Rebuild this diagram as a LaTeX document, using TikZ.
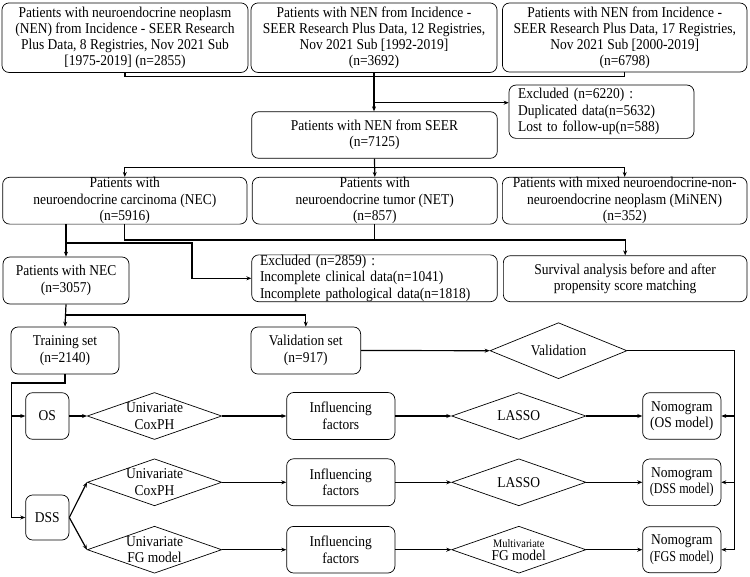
\documentclass[tikz,border=0pt]{standalone}
\usepackage{fontspec}
\setmainfont{Liberation Serif}[FakeStretch=0.9]
\usepackage{graphicx}
\usetikzlibrary{shapes.geometric,arrows.meta}
\begin{document}
\begin{tikzpicture}[x=1pt,y=-1pt,
  font=\fontsize{15}{16.6}\selectfont,
  box/.style={draw, rounded corners=7pt, line width=0.7pt, align=center, inner sep=0pt},
  lbox/.style={draw, rounded corners=7pt, line width=0.7pt, align=left, inner ysep=0pt},
  dia/.style={draw, diamond, inner sep=0pt, line width=0.7pt},
  conn/.style={line width=1.2pt},
  arr/.style={line width=1.2pt, -{Stealth[length=5pt,width=4pt]}},
  topfont/.style={font=\fontsize{15}{15.9}\selectfont},
]
\fill[white] (0,0) rectangle (750,576);
\useasboundingbox (0,0) rectangle (750,576);

% top row
\node[box, topfont, minimum width=246pt, minimum height=69.5pt] (t1) at (125,37.7)
  {Patients with neuroendocrine neoplasm\\(NEN) from Incidence - SEER Research\\Plus Data, 8 Registries, Nov 2021 Sub\\{[1975-2019]} (n=2855)};
\node[box, topfont, minimum width=246pt, minimum height=69.5pt] (t2) at (374,37.7)
  {Patients with NEN from Incidence -\\SEER Research Plus Data, 12 Registries,\\Nov 2021 Sub [1992-2019]\\(n=3692)};
\node[box, topfont, minimum width=244.5pt, minimum height=69pt] (t3) at (624.7,37.5)
  {Patients with NEN from Incidence -\\SEER Research Plus Data, 17 Registries,\\Nov 2021 Sub [2000-2019]\\(n=6798)};

\node[lbox, text width=167pt, inner xsep=9pt, minimum height=53.3pt] (ex1) at (601.5,111.7)
  {Excluded (n=6220) :\\Duplicated data(n=5632)\\Lost to follow-up(n=588)};

\node[box, minimum width=245.6pt, minimum height=46.6pt] (seer) at (374.5,135)
  {Patients with NEN from SEER\\(n=7125)};

% row 3
\node[box, minimum width=244.3pt, minimum height=46.7pt] (nec) at (124.8,200.7)
  {Patients with\\neuroendocrine carcinoma (NEC)\\(n=5916)};
\node[box, minimum width=245pt, minimum height=46.7pt] (net) at (374.8,200.7)
  {Patients with\\neuroendocrine tumor (NET)\\(n=857)};
\node[box, minimum width=244.7pt, minimum height=46.7pt] (minen) at (624.7,200.7)
  {Patients with mixed neuroendocrine-non-\\neuroendocrine neoplasm (MiNEN)\\(n=352)};

% row 4
\node[box, minimum width=126pt, minimum height=47pt] (pnec) at (66,280.5)
  {Patients with NEC\\(n=3057)};
\node[lbox, text width=229pt, inner xsep=8.3pt, minimum height=46.7pt] (ex2) at (374.5,278.3)
  {Excluded (n=2859) :\\Incomplete clinical data(n=1041)\\Incomplete pathological data(n=1818)};
\node[box, minimum width=243.7pt, minimum height=46pt] (surv) at (625.2,278.7)
  {Survival analysis before and after\\propensity score matching};

% row 5
\node[box, minimum width=108pt, minimum height=47pt] (train) at (65,350.5)
  {Training set\\(n=2140)};
\node[box, minimum width=109.7pt, minimum height=47pt] (vset) at (305.8,350.5)
  {Validation set\\(n=917)};
\node[dia, minimum width=137pt, minimum height=56pt, label={center:Validation}] (vdia) at (558.5,350.7) {};

% model rows
\node[box, minimum width=43.3pt, minimum height=46.6pt] (os) at (47.3,416) {OS};
\node[box, minimum width=43.3pt, minimum height=45pt] (dss) at (47.3,517.5) {DSS};

\node[dia, minimum width=134.4pt, minimum height=47pt, label={[align=center]center:Univariate\\CoxPH}] (d1) at (154.5,416) {};
\node[dia, minimum width=134.4pt, minimum height=47pt, label={[align=center]center:Univariate\\CoxPH}] (d2) at (154.5,482.3) {};
\node[dia, minimum width=134.4pt, minimum height=47pt, label={[align=center]center:Univariate\\FG model}] (d3) at (154.5,549.7) {};

\node[box, minimum width=108.3pt, minimum height=47pt] (f1) at (340.8,416) {Influencing\\factors};
\node[box, minimum width=108.3pt, minimum height=47pt] (f2) at (340.8,482.3) {Influencing\\factors};
\node[box, minimum width=108.3pt, minimum height=46.6pt] (f3) at (340.8,549.7) {Influencing\\factors};

\node[dia, minimum width=134.3pt, minimum height=47pt, label={center:LASSO}] (l1) at (518.8,416) {};
\node[dia, minimum width=134.3pt, minimum height=47pt, label={center:LASSO}] (l2) at (518.8,482.3) {};
\node[dia, minimum width=134.3pt, minimum height=47pt,
  label={[yshift=6.5pt]center:{\fontsize{11.5}{12}\selectfont Multivariate}},
  label={[yshift=-6pt]center:FG model}] (l3) at (518.8,549.7) {};

\node[box, minimum width=78.3pt, minimum height=46.6pt] (n1) at (681.8,416) {Nomogram\\(OS model)};
\node[box, minimum width=78.3pt, minimum height=46.6pt] (n2) at (681.8,482.3) {Nomogram\\\scalebox{0.9}[1]{(DSS model)}};
\node[box, minimum width=78.3pt, minimum height=46pt] (n3) at (681.8,549.7) {Nomogram\\\scalebox{0.9}[1]{(FGS model)}};

% connectors: top
\coordinate (jt) at (374,76.5);
\draw[conn] (t1.south) |- (jt);
\draw[conn] (t3.south) |- (jt);
\draw[arr] (t2.south) -- (t2.south |- seer.north);
\coordinate (je) at (374,102.7);
\draw[arr] (je) -- (ex1.west |- je);

% seer to row 3
\coordinate (js) at (374.5,167.3);
\draw[arr] (seer.south) -- (net.north);
\draw[arr] (js) -| (nec.north);
\draw[arr] (js) -| (minen.north);

% row 3 to survival
\coordinate (ja) at (124.8,240);
\draw[arr] (nec.south) -- (ja) -| (surv.north);
\draw[conn] (net.south) -- (net.south |- ja);

% NEC to Patients with NEC and excluded
\draw[arr] (pnec.north |- nec.south) -- (pnec.north);
\coordinate (b1) at (66,243);
\coordinate (b2) at (192,243);
\draw[arr] (b1) -- (b2) |- (ex2.west);

% Patients with NEC to training / validation
\coordinate (jv) at (66,315);
\draw[arr] (pnec.south) -- (train.north);
\draw[arr] (jv) -| (vset.north);

% validation
\draw[arr] (vset.east) -- (vdia.west);
\coordinate (rv) at (734.3,350.7);
\draw[conn] (vdia.east) -- (rv) -- (rv |- n3.east);
\draw[arr] (rv |- n1.east) -- (n1.east);
\draw[arr] (rv |- n2.east) -- (n2.east);
\draw[arr] (rv |- n3.east) -- (n3.east);

% training to OS / DSS
\coordinate (lv) at (11.7,383);
\draw[conn] (train.south) |- (lv) -- (lv |- dss.west);
\draw[arr] (lv |- os.west) -- (os.west);
\draw[arr] (lv |- dss.west) -- (dss.west);

% model rows
\draw[arr] (os.east) -- (d1.west);
\draw[arr] (dss.east) -- (d2.west);
\draw[arr] (dss.east) -- (d3.west);
\draw[arr] (d1.east) -- (f1.west);
\draw[arr] (d2.east) -- (f2.west);
\draw[arr] (d3.east) -- (f3.west);
\draw[arr] (f1.east) -- (l1.west);
\draw[arr] (f2.east) -- (l2.west);
\draw[arr] (f3.east) -- (l3.west);
\draw[arr] (l1.east) -- (n1.west);
\draw[arr] (l2.east) -- (n2.west);
\draw[arr] (l3.east) -- (n3.west);
\end{tikzpicture}
\end{document}
